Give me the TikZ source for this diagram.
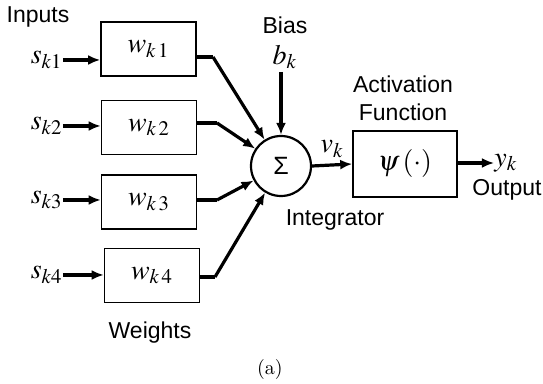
\documentclass[tikz,border=0pt]{standalone}
\usepackage{mathptmx}
\usepackage{fontspec}
\setmainfont{Latin Modern Roman}
\newfontfamily\arialfont{Liberation Sans}
\usetikzlibrary{arrows.meta,positioning}

\newcommand{\lowered}[1]{\raisebox{-3pt}{#1}}

\tikzset{
    wbox/.style={draw,line width=0.8pt,minimum width=47.5pt,minimum height=27pt,inner sep=0pt,
        font=\fontsize{14}{16}\selectfont},
    lbl/.style={font=\arialfont\fontsize{11.5}{13}\selectfont,inner sep=0pt},
    sig/.style={font=\fontsize{14}{16}\selectfont,inner sep=0pt},
    flow/.style={line width=1.6pt,-{Latex[length=6pt,width=5pt]}},
    wire/.style={line width=1.6pt}
}

\begin{document}
\begin{tikzpicture}[x=0.5pt,y=-0.5pt]
    \useasboundingbox (0,0) rectangle (543,384);
    % Weights
    \node[wbox] (w1) at (148.5,49) {\lowered{$w_{k\,1}$}};
    \node[wbox] (w2) at (149,127.5) {\lowered{$w_{k\,2}$}};
    \node[wbox] (w3) at (149,202) {\lowered{$w_{k\,3}$}};
    \node[wbox] (w4) at (152,275.5) {\lowered{$w_{k\,4}$}};
    % Inputs
    \node[sig,anchor=east] (s1) at (63,60) {$s_{k1}$};
    \node[sig,anchor=east] (s2) at (63,126) {$s_{k2}$};
    \node[sig,anchor=east] (s3) at (63,200) {$s_{k3}$};
    \node[sig,anchor=east] (s4) at (63,275) {$s_{k4}$};
    \foreach \i in {1,2,3,4}
        \draw[flow] (s\i.east) -- (s\i.east -| w\i.west);
    % Summing junction
    \node[draw,circle,line width=1.1pt,minimum size=30pt,inner sep=0pt] (sum) at (281,166)
        {\arialfont\fontsize{12.5}{14}\selectfont Σ};
    \coordinate (e1) at (213,57);
    \coordinate (e2) at (217,123);
    \coordinate (e3) at (217,200);
    \coordinate (e4) at (215,277);
    \draw[wire] (w1.east |- e1) -- (e1);
    \draw[flow] (e1) -- (sum);
    \draw[wire] (w2.east |- e2) -- (e2);
    \draw[flow] (e2) -- (sum);
    \draw[wire] (w3.east |- e3) -- (e3);
    \draw[flow] (e3) -- (sum);
    \draw[wire] (w4.east |- e4) -- (e4);
    \draw[flow] (e4) -- (sum);
    % Bias
    \node[lbl] (bias) at (285,25) {Bias};
    \node[sig] (bk) at (285,57) {$b_k$};
    \draw[flow] (sum.north |- 0,72) -- (sum.north);
    % Activation
    \node[wbox,minimum width=52pt,minimum height=33pt] (act) at (405,164) {$\psi\,(\cdot)$};
    \node[lbl,align=center] (actlbl) at (403,98) {Activation\\[1pt]Function};
    \draw[flow] (sum.east) -- node[sig,above=3pt] (vk) {$v_k$} (act.west);
    \node[sig,anchor=west] (yk) at (494,163) {$y_k$};
    \draw[flow] (act.east |- yk) -- (yk.west);
    \node[lbl] (out) at (507,190) {Output};
    % Labels
    \node[lbl] (intg) at (335,220) {Integrator};
    \node[lbl] (inp) at (38,17) {Inputs};
    \node[lbl] (wts) at (150,333) {Weights};
    \node[inner sep=0pt,font=\fontsize{10}{12}\selectfont] (cap) at (270,370) {(a)};
\end{tikzpicture}
\end{document}
